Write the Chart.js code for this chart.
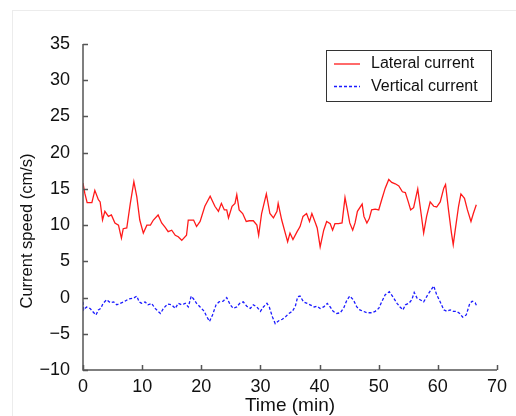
<!DOCTYPE html>
<html>
<head>
<meta charset="utf-8">
<script src="https://cdn.jsdelivr.net/npm/chart.js@4/dist/chart.umd.min.js"></script>
<style>
  html, body { margin: 0; padding: 0; background: #fff; }
  #wrap { position: relative; width: 516px; height: 416px; }
  #frame { position: absolute; left: 12px; top: 10px; width: 520px; height: 420px;
           border-left: 1px solid #ececec; border-top: 1px solid #ececec; }
  canvas { position: absolute; left: 0; top: 0; }
</style>
</head>
<body>
<div id="wrap">
  <div id="frame"></div>
  <canvas id="c" width="516" height="416"></canvas>
</div>
<script>
// ---- data ----
const lateralTime = [0,0.3,0.7,1.5,2.0,2.6,2.9,3.3,3.7,4.3,4.8,5.4,6.0,6.3,6.5,6.8,7.4,8.0,8.6,9.1,9.6,10.2,10.8,11.4,11.9,12.7,13.3,13.9,14.4,15.0,15.6,16.1,16.7,17.5,17.8,18.7,19.2,19.8,20.6,21.5,22.3,22.9,23.4,23.9,24.3,24.6,25.2,25.7,26.0,26.4,27.0,27.6,28.1,28.8,29.4,29.7,30.2,31.0,31.6,32.2,32.8,33.0,33.6,34.2,34.6,35.0,35.5,36.2,36.7,37.2,37.8,38.3,38.7,39.3,39.6,40.1,40.7,41.2,41.8,42.2,42.6,43.2,43.8,44.3,44.7,45.1,45.6,46.0,46.4,47.2,47.5,48.0,48.4,48.8,49.4,50.0,50.5,51.1,51.7,52.2,52.8,53.4,54.0,54.5,55.0,55.4,55.9,56.3,56.6,57.0,57.6,58.1,58.7,59.3,59.8,60.4,61.0,61.3,61.8,62.3,62.6,62.9,63.5,63.9,64.5,65.0,65.6,66.0,66.5];
const lateralSpeed = [15.8,14.4,13.1,13.1,14.8,13.5,13.2,10.7,11.9,11.2,11.4,10.3,10.0,8.9,8.2,9.5,9.6,13.0,16.0,13.9,10.7,8.9,10.0,10.0,10.7,11.4,10.3,9.7,9.1,9.3,8.6,8.4,7.9,8.6,10.7,10.7,9.8,10.5,12.6,14.0,12.6,11.9,13.0,12.1,12.1,11.0,12.6,13.0,14.2,12.1,11.6,10.5,10.6,10.6,10.0,8.6,11.6,14.3,11.6,11.0,11.9,13.0,10.7,8.9,7.7,8.9,8.0,9.1,9.8,11.2,11.6,10.5,11.6,10.3,9.6,7.0,9.3,10.5,10.2,9.3,10.2,10.2,10.3,13.8,12.1,10.3,9.3,10.3,11.9,12.9,11.2,10.3,10.9,12.1,12.2,12.1,13.5,15.1,16.3,15.9,15.7,15.4,14.6,14.5,13.2,12.1,12.4,13.9,15.0,12.6,8.9,11.2,13.2,12.6,12.5,13.2,15.1,15.6,12.1,8.9,7.3,9.1,12.6,14.3,13.7,12.1,10.5,11.6,12.8];

const verticalTime = [0,0.1,0.6,1.2,1.6,2.2,2.6,3.0,3.4,4.0,4.6,5.2,5.7,6.3,6.9,7.7,8.5,9.1,9.5,9.9,10.5,11.0,11.6,12.2,12.7,13.1,13.6,14.3,15.0,15.6,16.1,16.7,17.3,17.8,18.3,18.7,19.2,19.8,20.5,20.9,21.4,21.9,22.5,23.0,23.7,24.3,24.9,25.4,26.0,26.5,27.1,27.7,28.3,28.8,29.4,30.0,30.5,31.1,31.5,32.0,32.5,33.1,33.7,34.3,34.8,35.4,35.9,36.3,36.7,37.3,37.9,38.4,39.1,39.6,40.1,40.7,41.3,41.8,42.3,42.9,43.5,44.1,44.6,45.1,45.7,46.3,46.8,47.4,48.0,48.8,49.4,50.0,50.5,51.1,51.8,52.4,53.1,53.6,54.1,54.5,55.1,55.6,56.0,56.5,57.0,57.6,58.3,58.8,59.3,59.8,60.4,61.0,61.5,62.1,62.6,63.2,63.7,64.2,64.8,65.4,65.8,66.3,66.6];
const verticalSpeed = [-0.6,-1.7,-1.3,-1.5,-1.9,-2.4,-1.7,-1.5,-0.8,-0.3,-0.7,-0.6,-1.0,-0.8,-0.6,-0.2,-0.1,0.2,-0.6,-0.8,-0.6,-1.0,-0.8,-1.5,-1.9,-2.2,-1.5,-0.9,-1.0,-1.5,-0.8,-1.0,-0.8,-1.3,0.2,-0.2,-0.8,-1.3,-1.9,-2.6,-3.3,-2.4,-1.0,-0.6,-0.5,0.0,-1.0,-1.5,-1.3,-0.8,-0.6,-1.2,-1.5,-1.0,-1.3,-1.9,-1.3,-0.8,-1.3,-2.6,-3.6,-3.2,-3.0,-2.6,-2.2,-1.9,-1.2,0.1,0.2,-0.6,-0.8,-1.0,-1.3,-1.2,-1.5,-1.3,-0.8,-1.3,-1.9,-2.2,-2.1,-1.4,-0.4,0.2,-0.3,-1.3,-1.7,-1.9,-2.1,-2.1,-1.9,-1.5,-0.6,0.4,0.8,0.1,-0.8,-1.3,-1.7,-1.0,-0.8,-0.3,0.7,-0.1,-0.3,-0.6,0.4,1.0,1.6,0.4,-0.6,-1.7,-1.9,-1.7,-1.9,-1.9,-2.2,-2.7,-2.4,-0.8,-0.5,-0.7,-1.2];

const seriesLabels = ['Lateral current', 'Vertical current'];
const xTicks = [0,10,20,30,40,50,60,70];
const yTicks = [-10,-5,0,5,10,15,20,25,30,35];
const xTitle = 'Time (min)';
const yTitle = 'Current speed (cm/s)';

const FONT = '"Liberation Sans", Arial, sans-serif';
const AXIS_COLOR = '#555555';

function pts(t, v) { return t.map((x, i) => ({ x: x, y: v[i] })); }

const tickMarks = {
  id: 'tickMarks',
  afterDraw(chart) {
    const ctx = chart.ctx, xs = chart.scales.x, ys = chart.scales.y;
    const a = chart.chartArea;
    ctx.save();
    ctx.strokeStyle = AXIS_COLOR; ctx.lineWidth = 1.5;
    ctx.beginPath();
    xTicks.forEach(v => { const p = Math.round(xs.getPixelForValue(v)) + 0.5; ctx.moveTo(p, a.bottom); ctx.lineTo(p, a.bottom - 5); });
    yTicks.forEach(v => { const p = Math.round(ys.getPixelForValue(v)) + 0.5; ctx.moveTo(a.left, p); ctx.lineTo(a.left + 5, p); });
    ctx.stroke();
    // axis lines
    ctx.beginPath();
    ctx.moveTo(a.left, a.top); ctx.lineTo(a.left, a.bottom); ctx.lineTo(a.right, a.bottom);
    ctx.stroke();
    // titles
    ctx.fillStyle = '#111';
    ctx.textAlign = 'center'; ctx.textBaseline = 'middle';
    ctx.font = '19px ' + FONT;
    ctx.fillText(xTitle, (a.left + a.right) / 2, 406);
    ctx.font = '16.5px ' + FONT;
    ctx.translate(27, 231); ctx.rotate(-Math.PI / 2);
    ctx.fillText(yTitle, 0, 0);
    ctx.restore();
  }
};

const boxLegend = {
  id: 'boxLegend',
  afterDraw(chart) {
    const ctx = chart.ctx;
    const L = 326, T = 50, R = 491, B = 101;
    ctx.save();
    ctx.fillStyle = '#fff';
    ctx.fillRect(L, T, R - L, B - T);
    ctx.strokeStyle = '#333'; ctx.lineWidth = 1;
    ctx.strokeRect(L + 0.5, T + 0.5, R - L, B - T);
    ctx.font = '16px ' + FONT;
    ctx.textAlign = 'left'; ctx.textBaseline = 'middle';
    chart.data.datasets.forEach((ds, i) => {
      const y = 64 + i * 22.5;
      ctx.strokeStyle = ds.borderColor; ctx.lineWidth = 1.3;
      ctx.setLineDash(ds.borderDash || []);
      ctx.beginPath(); ctx.moveTo(334, y); ctx.lineTo(360, y); ctx.stroke();
      ctx.setLineDash([]);
      ctx.fillStyle = '#111';
      ctx.fillText(ds.label, 371, y);
    });
    ctx.restore();
  }
};

new Chart(document.getElementById('c'), {
  type: 'line',
  data: {
    datasets: [
      { label: seriesLabels[0], data: pts(lateralTime, lateralSpeed), borderColor: '#ff1a1a', borderWidth: 1.3, pointRadius: 0, tension: 0, fill: false },
      { label: seriesLabels[1], data: pts(verticalTime, verticalSpeed), borderColor: '#1a1aff', borderWidth: 1.3, borderDash: [3, 2], pointRadius: 0, tension: 0, fill: false }
    ]
  },
  options: {
    responsive: false,
    animation: false,
    layout: { padding: { left: 0, top: 44, right: 19, bottom: 0 } },
    plugins: { legend: { display: false }, tooltip: { enabled: false } },
    scales: {
      x: {
        type: 'linear', min: 0, max: 70,
        afterBuildTicks: s => { s.ticks = xTicks.map(v => ({ value: v })); },
        afterFit: s => { s.height = 46; },
        grid: { display: false, drawTicks: false },
        border: { display: false },
        ticks: { color: '#111', font: { family: FONT, size: 18 }, padding: 6, maxRotation: 0, autoSkip: false }
      },
      y: {
        type: 'linear', min: -10, max: 35,
        afterBuildTicks: s => { s.ticks = yTicks.map(v => ({ value: v })); },
        afterFit: s => { s.width = 83; },
        grid: { display: false, drawTicks: false },
        border: { display: false },
        ticks: { color: '#111', font: { family: FONT, size: 18 }, padding: 13, autoSkip: false,
                 callback: v => (v < 0 ? '\u2212' + Math.abs(v) : String(v)) }
      }
    }
  },
  plugins: [tickMarks, boxLegend]
});
</script>
</body>
</html>
